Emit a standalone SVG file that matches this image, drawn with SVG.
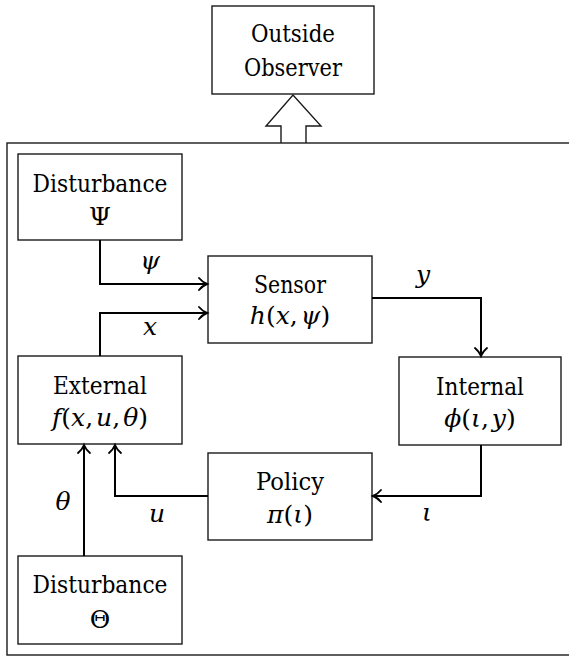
<svg xmlns="http://www.w3.org/2000/svg" width="569" height="657" viewBox="0 0 569 657">
<style>
  .box { fill: #fff; stroke: #1a1a1a; stroke-width: 1.4; }
  .frame { fill: none; stroke: #1a1a1a; stroke-width: 1.4; }
  .wire { fill: none; stroke: #000; stroke-width: 2; }
  .t { font-family: 'DejaVu Serif', serif; font-size: 25px; fill: #000; text-anchor: middle; }
  .m { font-style: italic; }
</style>
<defs>
  <marker id="to" markerUnits="userSpaceOnUse" markerWidth="20" markerHeight="20" viewBox="-10 -10 20 20" refX="0" refY="0" orient="auto" overflow="visible">
    <path d="M-8,-6 C-5.5,-3 -2.5,-1 0,0 C-2.5,1 -5.5,3 -8,6" fill="none" stroke="#000" stroke-width="1.9" stroke-linecap="round"/>
  </marker>
</defs>

<g id="frame">
  <rect class="frame" x="7" y="143" width="600" height="512"/>
</g>

<g id="observer">
  <rect class="box" x="212" y="6" width="162" height="88"/>
  <text class="t" x="293" y="42" textLength="84" lengthAdjust="spacingAndGlyphs">Outside</text>
  <text class="t" x="293" y="76" textLength="98" lengthAdjust="spacingAndGlyphs">Observer</text>
</g>

<g id="hollow-arrow">
  <polyline points="281,143 281,126 266,126 293,95 321,126 306,126 306,143" fill="none" stroke="#1a1a1a" stroke-width="1.4" stroke-linejoin="miter"/>
</g>

<g id="dist-psi">
  <rect class="box" x="18" y="154" width="164" height="86"/>
  <text class="t" x="100" y="192" textLength="135" lengthAdjust="spacingAndGlyphs">Disturbance</text>
  <text class="t" x="100" y="225">Ψ</text>
</g>

<g id="sensor">
  <rect class="box" x="208" y="256" width="164" height="87"/>
  <text class="t" x="290" y="293" textLength="72" lengthAdjust="spacingAndGlyphs">Sensor</text>
  <text class="t" x="290" y="324"><tspan class="m">h</tspan>(<tspan class="m">x</tspan>,<tspan class="m" dx="3">ψ</tspan>)</text>
</g>

<g id="external">
  <rect class="box" x="18" y="356" width="164" height="88"/>
  <text class="t" x="100" y="394" textLength="94" lengthAdjust="spacingAndGlyphs">External</text>
  <text class="t" x="100" y="426"><tspan class="m">f</tspan>(<tspan class="m">x</tspan>,<tspan class="m" dx="3">u</tspan>,<tspan class="m" dx="3">θ</tspan>)</text>
</g>

<g id="internal">
  <rect class="box" x="399" y="357" width="162" height="88"/>
  <text class="t" x="480" y="395" textLength="88" lengthAdjust="spacingAndGlyphs">Internal</text>
  <text class="t" x="480" y="427"><tspan class="m">ϕ</tspan>(<tspan class="m">ι</tspan>,<tspan class="m" dx="3">y</tspan>)</text>
</g>

<g id="policy">
  <rect class="box" x="208" y="453" width="164" height="87"/>
  <text class="t" x="290" y="490" textLength="68" lengthAdjust="spacingAndGlyphs">Policy</text>
  <text class="t" x="290" y="523"><tspan class="m">π</tspan>(<tspan class="m">ι</tspan>)</text>
</g>

<g id="dist-theta">
  <rect class="box" x="18" y="556" width="164" height="88"/>
  <text class="t" x="100" y="593" textLength="135" lengthAdjust="spacingAndGlyphs">Disturbance</text>
  <text class="t" x="100" y="628">Θ</text>
</g>

<g id="connectors">
  <path class="wire" d="M100,240 V284 H207" marker-end="url(#to)"/>
  <path class="wire" d="M100,356 V313 H207" marker-end="url(#to)"/>
  <path class="wire" d="M372,298 H481 V356" marker-end="url(#to)"/>
  <path class="wire" d="M481,445 V496 H373" marker-end="url(#to)"/>
  <path class="wire" d="M208,496 H115 V445" marker-end="url(#to)"/>
  <path class="wire" d="M84,556 V445" marker-end="url(#to)"/>
  <text class="t m" x="150" y="269">ψ</text>
  <text class="t m" x="150" y="335">x</text>
  <text class="t m" x="423" y="283">y</text>
  <text class="t m" x="427" y="521">ι</text>
  <text class="t m" x="157" y="522">u</text>
  <text class="t m" x="63" y="510">θ</text>
</g>
</svg>
